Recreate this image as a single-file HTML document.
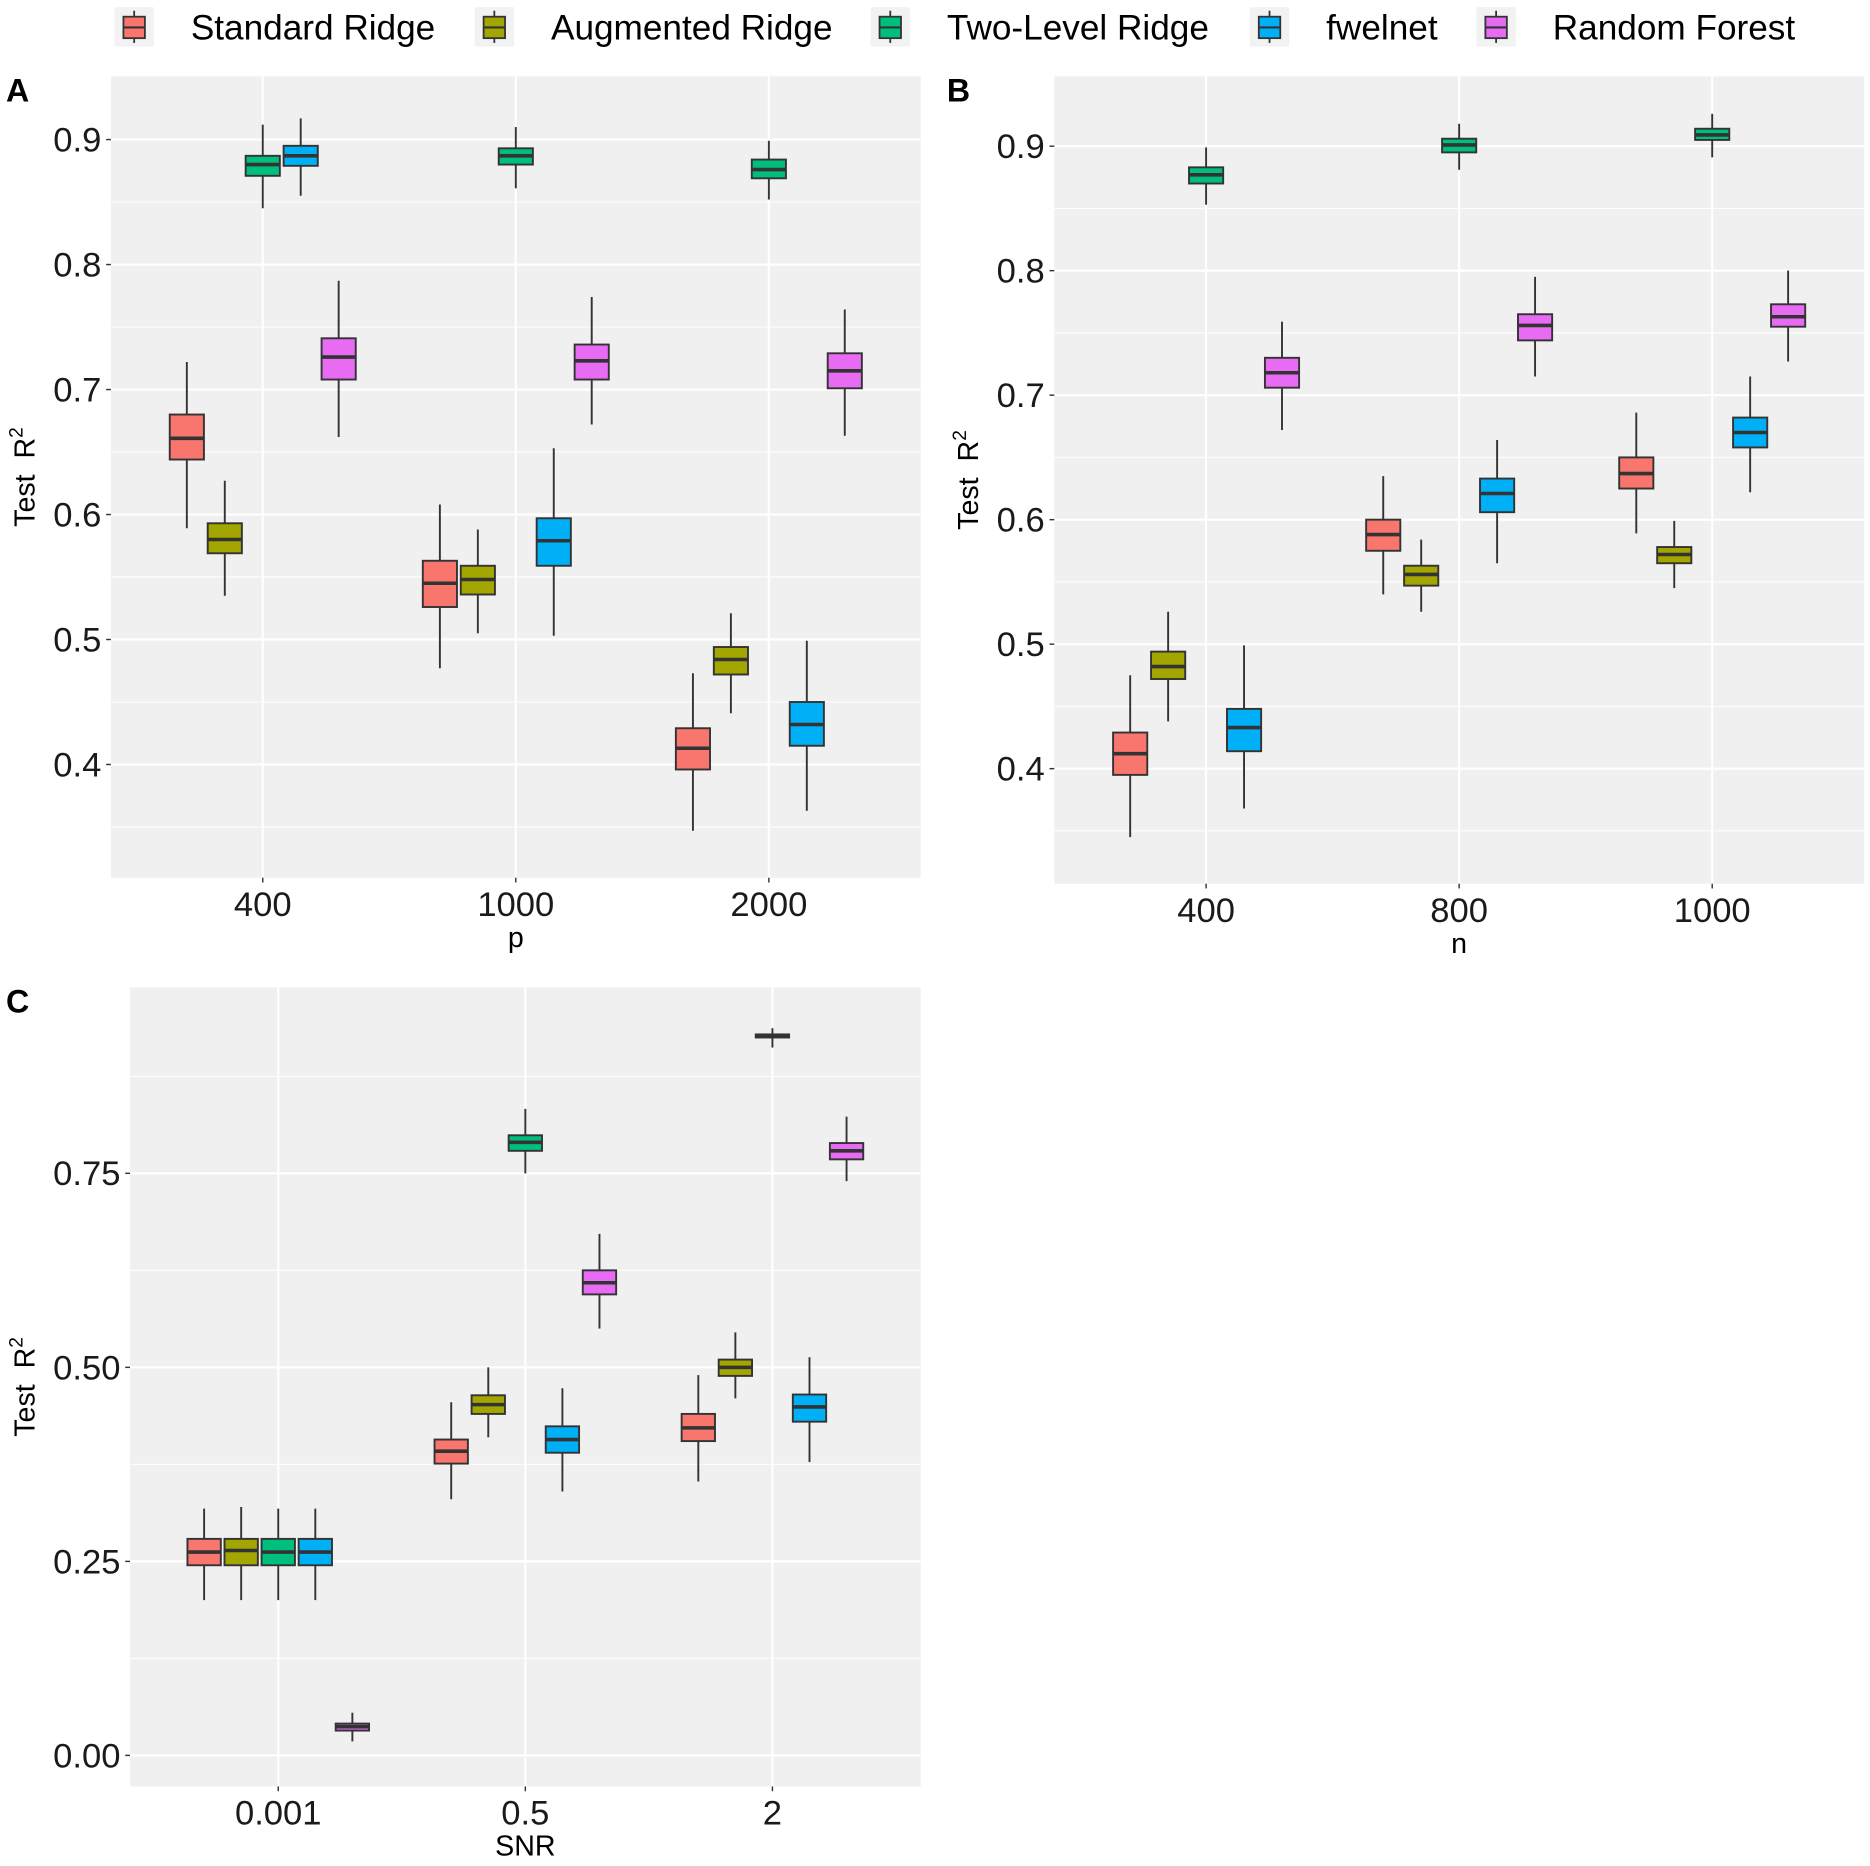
<!DOCTYPE html>
<html><head><meta charset="utf-8">
<style>
html,body{margin:0;padding:0;background:#fff;}
svg{display:block;font-family:"Liberation Sans",Arial,sans-serif;}
</style></head>
<body>
<svg id="chart" width="1870" height="1866" viewBox="0 0 1568 1564.7" preserveAspectRatio="none" xmlns="http://www.w3.org/2000/svg"></svg>
<script>
const seriesNames = ["Standard Ridge","Augmented Ridge","Two-Level Ridge","fwelnet","Random Forest"];
const seriesColors = ["#F8766D","#A3A500","#00BF7D","#00B0F6","#E76BF3"];

const catsA = ["400","1000","2000"];
const ticksA = [0.4,0.5,0.6,0.7,0.8,0.9];
const tickLabelsA = ["0.4","0.5","0.6","0.7","0.8","0.9"];
// [series][category] = [lowWhisker, q1, median, q3, highWhisker]
const statsA = [
 [[0.589,0.644,0.661,0.680,0.722],[0.477,0.526,0.545,0.563,0.608],[0.347,0.396,0.413,0.429,0.473]],
 [[0.535,0.569,0.580,0.593,0.627],[0.505,0.536,0.548,0.559,0.588],[0.441,0.472,0.484,0.494,0.521]],
 [[0.845,0.871,0.880,0.887,0.912],[0.861,0.880,0.887,0.893,0.910],[0.852,0.869,0.876,0.884,0.899]],
 [[0.855,0.879,0.887,0.895,0.917],[0.503,0.559,0.579,0.597,0.653],[0.363,0.415,0.432,0.450,0.499]],
 [[0.662,0.708,0.726,0.741,0.787],[0.672,0.708,0.723,0.736,0.774],[0.663,0.701,0.715,0.729,0.764]]
];

const catsB = ["400","800","1000"];
const ticksB = [0.4,0.5,0.6,0.7,0.8,0.9];
const tickLabelsB = ["0.4","0.5","0.6","0.7","0.8","0.9"];
const statsB = [
 [[0.345,0.395,0.412,0.429,0.475],[0.540,0.575,0.588,0.600,0.635],[0.589,0.625,0.637,0.650,0.686]],
 [[0.438,0.472,0.482,0.494,0.526],[0.526,0.547,0.556,0.563,0.584],[0.545,0.565,0.572,0.578,0.599]],
 [[0.853,0.870,0.877,0.883,0.899],[0.881,0.895,0.901,0.906,0.918],[0.891,0.905,0.909,0.914,0.926]],
 [[0.368,0.414,0.433,0.448,0.499],[0.565,0.606,0.621,0.633,0.664],[0.622,0.658,0.670,0.682,0.715]],
 [[0.672,0.706,0.718,0.730,0.759],[0.715,0.744,0.756,0.765,0.795],[0.727,0.755,0.763,0.773,0.800]]
];

const catsC = ["0.001","0.5","2"];
const ticksC = [0,0.25,0.5,0.75];
const tickLabelsC = ["0.00","0.25","0.50","0.75"];
const statsC = [
 [[0.200,0.245,0.262,0.279,0.318],[0.330,0.376,0.392,0.407,0.455],[0.353,0.405,0.422,0.440,0.490]],
 [[0.200,0.245,0.264,0.279,0.320],[0.410,0.440,0.452,0.464,0.500],[0.460,0.489,0.500,0.510,0.545]],
 [[0.200,0.245,0.262,0.279,0.318],[0.750,0.779,0.790,0.799,0.833],[0.912,0.925,0.927,0.929,0.937]],
 [[0.200,0.245,0.262,0.279,0.318],[0.340,0.390,0.407,0.424,0.473],[0.378,0.430,0.449,0.465,0.513]],
 [[0.018,0.032,0.037,0.041,0.055],[0.550,0.594,0.609,0.625,0.672],[0.740,0.768,0.779,0.789,0.823]]
];

const NS="http://www.w3.org/2000/svg";
const svg=document.getElementById('chart');
function mk(tag,attrs,parent){const e=document.createElementNS(NS,tag);for(const k in attrs)e.setAttribute(k,attrs[k]);(parent||svg).appendChild(e);return e;}

// legend
const legX=[111,413,745,1063,1253];
seriesNames.forEach((nm,i)=>{
  const g=mk('g',{});
  
  
  const x=legX[i];
  mk('rect',{x:x-15,y:6,width:33,height:33,fill:'#F2F2F2'},g);
  mk('line',{x1:x+1.5,x2:x+1.5,y1:9,y2:36,stroke:'#333',"stroke-width":1.5},g);
  mk('rect',{x:x-7.5,y:14,width:18,height:18,fill:seriesColors[i],stroke:'#333',"stroke-width":1.5},g);
  mk('line',{x1:x-7.5,x2:x+10.5,y1:23,y2:23,stroke:'#333',"stroke-width":1.8},g);
  const t=mk('text',{x:x+49,y:33,"font-size":29.5,fill:'#000'},g);t.textContent=nm;
});

function panel(key,label,box,yMin,yMax,ticks,tickLabels,minor,cats,stats,xTitle,labelPos){
  const g=mk('g',{});
  
  
  const [L,T,R,B]=box;
  const ys=v=>B-(v-yMin)/(yMax-yMin)*(B-T);
  const step=(R-L)/(cats.length+0.2);
  const xs=i=>L+step*(0.6+i);
  mk('rect',{x:L,y:T,width:R-L,height:B-T,fill:'#F0F0F0'},g);
  minor.forEach(v=>mk('line',{x1:L,x2:R,y1:ys(v),y2:ys(v),stroke:'#fff',"stroke-width":0.8},g));
  ticks.forEach((v,i)=>{
    mk('line',{x1:L,x2:R,y1:ys(v),y2:ys(v),stroke:'#fff',"stroke-width":1.8},g);
    mk('line',{x1:L-4,x2:L,y1:ys(v),y2:ys(v),stroke:'#333',"stroke-width":1.2},g);
    const t=mk('text',{x:L-8,y:ys(v)+10,"text-anchor":'end',"font-size":29,fill:'#1a1a1a'},g);
    
    t.textContent=tickLabels[i];
  });
  cats.forEach((c,i)=>{
    mk('line',{x1:xs(i),x2:xs(i),y1:T,y2:B,stroke:'#fff',"stroke-width":1.8},g);
    mk('line',{x1:xs(i),x2:xs(i),y1:B,y2:B+4,stroke:'#333',"stroke-width":1.2},g);
    const t=mk('text',{x:xs(i),y:B+32,"text-anchor":'middle',"font-size":29,fill:'#1a1a1a'},g);
    
    t.textContent=c;
  });
  const dodge=step*0.75, bw=dodge/5*0.9;
  stats.forEach((ser,s)=>{
    ser.forEach((st,i)=>{
      const cx=xs(i)-dodge/2+dodge/5*(s+0.5);
      const b=mk('g',{},g);
      
      
      mk('line',{x1:cx,x2:cx,y1:ys(st[0]),y2:ys(st[4]),stroke:'#333',"stroke-width":1.6},b);
      mk('rect',{x:cx-bw/2,y:ys(st[3]),width:bw,height:Math.max(ys(st[1])-ys(st[3]),1),fill:seriesColors[s],stroke:'#333',"stroke-width":1.6},b);
      mk('line',{x1:cx-bw/2,x2:cx+bw/2,y1:ys(st[2]),y2:ys(st[2]),stroke:'#333',"stroke-width":3},b);
    });
  });
  const xt=mk('text',{x:(L+R)/2,y:B+58,"text-anchor":'middle',"font-size":24,fill:'#000'},g);
  
  xt.textContent=xTitle;
  const ym=(T+B)/2;
  const yt=mk('text',{transform:`translate(${labelPos[1]},${ym}) rotate(-90)`,"text-anchor":'middle',"font-size":24,fill:'#000',"xml:space":'preserve'},g);
  
  yt.innerHTML='Test\u00a0\u00a0R<tspan font-size="16" dy="-10">2</tspan>';
  const pl=mk('text',{x:labelPos[0],y:T+21,"font-size":27,"font-weight":'bold',fill:'#000'},g);
  
  pl.textContent=label;
}
panel('a','A',[93,64,772,736],0.3094,0.9506,ticksA,tickLabelsA,[0.35,0.45,0.55,0.65,0.75,0.85],catsA,statsA,'p',[5,29]);
panel('b','B',[884,64,1563,741],0.3076,0.9561,ticksB,tickLabelsB,[0.35,0.45,0.55,0.65,0.75,0.85],catsB,statsB,'n',[794,820]);
panel('c','C',[109,828,772,1498],-0.040,0.9895,ticksC,tickLabelsC,[0.125,0.375,0.625,0.875],catsC,statsC,'SNR',[5,29]);
</script>
</body></html>
